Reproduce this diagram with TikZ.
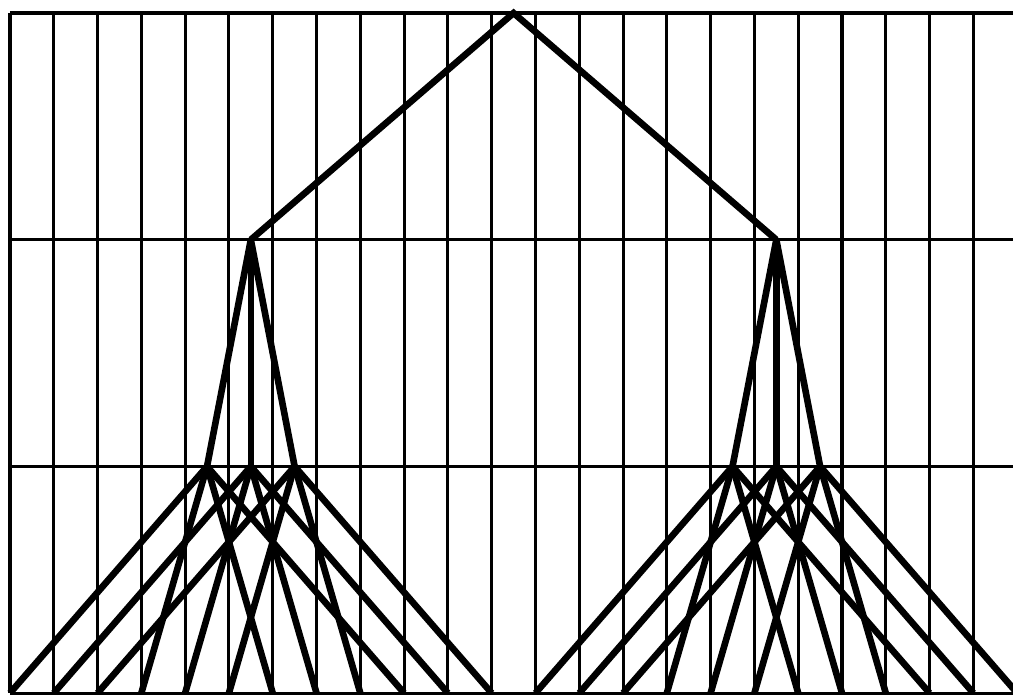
\documentclass[tikz,border=0pt]{standalone}
\usepackage{tikz}
\usetikzlibrary{positioning}
\usetikzlibrary{calc}

\tikzset{
  gridline/.style={line width=2pt},
  branch/.style={line width=4.3pt, line join=miter},
}

\begin{document}
\begin{tikzpicture}[x=1cm, y=1cm]
    \useasboundingbox (-0.228,0.297) rectangle (22.905,-15.574);

    % grid: one column per leaf, one row per level
    \foreach \c in {0,...,23}
        \draw[gridline] (\c,0) -- (\c,-15.53);
    \foreach \l in {0,1,2,3}
        \draw[gridline] (0,-5.177*\l) -- (23.5,-5.177*\l);

    % tree (branching 2, 3, 4)
    \coordinate (r) at (11.5,0);
    \foreach \i in {0,1} {
        \coordinate (a\i) at (12*\i+5.5,-5.177);
        \foreach \j in {0,1,2} {
            \coordinate (b\i\j) at (12*\i+4.5+\j,-10.354);
            \foreach \m in {0,...,3}
                \coordinate (c\i\j\m) at (12*\i+\j+3*\m,-15.53);
        }
    }

    \draw[branch] (a0) -- (r) -- (a1);
    \foreach \i in {0,1}
        \foreach \j in {0,1,2} {
            \draw[branch] (a\i) -- (b\i\j);
            \foreach \m in {0,...,3}
                \draw[branch] (b\i\j) -- (c\i\j\m);
        }

\end{tikzpicture}
\end{document}
